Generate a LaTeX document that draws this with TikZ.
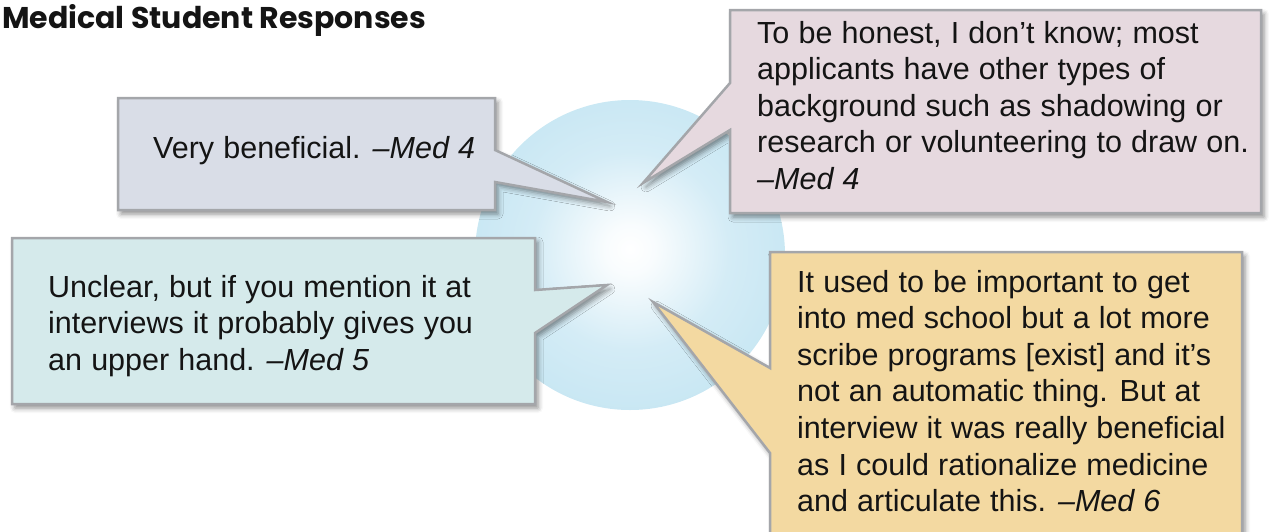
\documentclass[tikz,border=0pt]{standalone}
\usepackage{fontspec}
\setmainfont{Liberation Sans}
\newfontfamily\headfont{Poppins}
\usetikzlibrary{shadows.blur}

\definecolor{edgegray}{RGB}{164,166,170}
\definecolor{inktext}{RGB}{20,20,20}
\definecolor{boxlav}{RGB}{217,221,231}
\definecolor{boxpink}{RGB}{230,217,223}
\definecolor{boxteal}{RGB}{213,234,235}
\definecolor{boxsand}{RGB}{243,217,161}
\definecolor{orbedge}{RGB}{184,224,239}
\definecolor{orbmid}{RGB}{212,236,246}

% soft highlight in the middle of the sphere
\pgfdeclareradialshading{orbglow}{\pgfpoint{0bp}{1bp}}{%
  color(0bp)=(white);
  color(4bp)=(white!85!orbmid);
  color(16bp)=(orbmid);
  color(40bp)=(orbedge);
  color(50bp)=(orbedge)}

% body text of the quotes, with slightly wider word spaces
\newcommand\quotetype{\fontsize{30.5}{36.6}\selectfont}

% quote nodes are placed by the baseline of their last line
\tikzset{
  bubble/.style={draw=edgegray, line width=2.5pt, line join=miter,
    blur shadow={shadow xshift=3pt, shadow yshift=-4pt,
      shadow blur radius=5pt, shadow opacity=45}},
  quote/.style={anchor=base west, align=left, inner sep=0pt,
    font=\quotetype, text=inktext,
    execute at begin node={\spaceskip=0.3em plus 0.1em minus 0.05em\relax}},
}

\begin{document}
\begin{tikzpicture}[x=1pt,y=-1pt]
\useasboundingbox (0,0) rectangle (1269,531);

% title
\node[anchor=base west, inner sep=0pt, text=inktext,
  font=\headfont\bfseries\fontsize{30}{34}\selectfont] (title) at (2,28)
  {Medical Student Responses};

% central sphere
\shade[shading=orbglow] (630,255) circle[radius=155pt];

% speech bubbles with their pointers towards the sphere
\path[bubble, fill=boxlav]
  (118,98) -- (495,98) -- (495,150) -- (607,202) -- (495,182)
  -- (495,210) -- (118,210) -- cycle;
\path[bubble, fill=boxpink]
  (730,10) -- (1261,10) -- (1261,213) -- (730,213) -- (730,130)
  -- (643,183) -- (730,83) -- cycle;
\path[bubble, fill=boxteal]
  (12,238) -- (535,238) -- (535,290) -- (607,285) -- (535,333)
  -- (535,404) -- (12,404) -- cycle;
\path[bubble, fill=boxsand]
  (770,252) -- (1242,252) -- (1242,560) -- (770,560) -- (770,453)
  -- (653,302) -- (770,368) -- cycle;

% quotes
\node[quote] (q1) at (153,158) {Very beneficial. \textit{–Med 4}};
\node[quote] (q2) at (757,189.4) {To be honest, I don’t know; most\\
  applicants have other types of\\
  background such as shadowing or\\
  research or volunteering to draw on.\\
  \textit{–Med 4}};
\node[quote] (q3) at (48,370.2) {Unclear, but if you mention it at\\
  interviews it probably gives you\\
  an upper hand. \textit{–Med 5}};
\node[quote] (q4) at (797,511.6) {It used to be important to get\\
  into med school but a lot more\\
  scribe programs [exist] and it’s\\
  not an automatic thing. But at\\
  interview it was really beneficial\\
  as I could rationalize medicine\\
  and articulate this. \textit{–Med 6}};
\end{tikzpicture}
\end{document}
